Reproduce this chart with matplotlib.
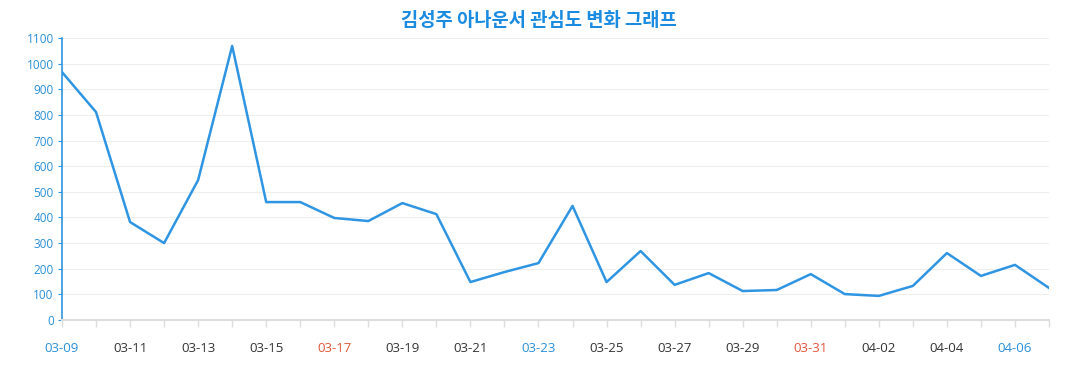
import matplotlib
matplotlib.use("Agg")
import matplotlib.pyplot as plt

plt.rcParams['font.family'] = ['Open Sans', 'Noto Sans CJK KR', 'DejaVu Sans']

# data
dates = ['03-09', '03-10', '03-11', '03-12', '03-13', '03-14', '03-15', '03-16',
         '03-17', '03-18', '03-19', '03-20', '03-21', '03-22', '03-23', '03-24',
         '03-25', '03-26', '03-27', '03-28', '03-29', '03-30', '03-31', '04-01',
         '04-02', '04-03', '04-04', '04-05', '04-06', '04-07']
interest = [967, 811, 382, 300, 546, 1069, 460, 460, 398, 386, 456, 413, 148, 187,
            222, 445, 148, 269, 137, 183, 113, 117, 179, 101, 94, 133, 261, 172,
            215, 125]
blue_days = ['03-09', '03-23', '04-06']
red_days = ['03-17', '03-31']

fig = plt.figure(figsize=(10.77, 3.9), dpi=100)
ax = fig.add_axes([62/1077, 70/390, (1049-62)/1077, (320-38)/390])

x = list(range(len(dates)))
ax.plot(x, interest, color='#2f95e3', linewidth=1.8, zorder=3)

ax.set_xlim(0, len(dates) - 1)
ax.set_ylim(0, 1100)
ax.set_yticks(range(0, 1101, 100))
ax.set_xticks(x[::2])
ax.set_xticklabels(dates[::2])
ax.set_xticks(x[1::2], minor=True)

ax.grid(axis='y', color='#eeeeee', linewidth=0.8)
ax.set_axisbelow(True)

for s in ['top', 'right']:
    ax.spines[s].set_visible(False)
ax.spines['left'].set_color('#2f95e3')
ax.spines['left'].set_linewidth(1.2)
ax.spines['bottom'].set_color('#dddddd')
ax.spines['bottom'].set_linewidth(1.5)

ax.tick_params(axis='y', colors='#2f95e3', labelsize=8.5, length=3, pad=3)
ax.tick_params(axis='y', labelcolor='#2a8fd6')
ax.tick_params(axis='x', which='both', color='#dddddd', length=5, width=1)
ax.tick_params(axis='x', labelsize=9.5, pad=11, labelcolor='#333333')

for lbl in ax.get_xticklabels():
    t = lbl.get_text()
    if t in blue_days:
        lbl.set_color('#2a8fd6')
    elif t in red_days:
        lbl.set_color('#e0563b')

fig.text(0.5, 1 - 20/390, '김성주 아나운서 관심도 변화 그래프', ha='center', va='center',
         fontsize=13.5, fontweight='bold', color='#1a8be0',
         family=['Noto Sans CJK KR', 'DejaVu Sans'])

fig.savefig('out.png', dpi=100)
